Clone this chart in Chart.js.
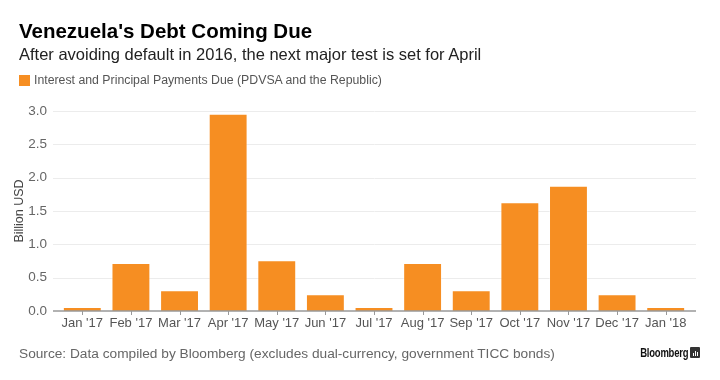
<!DOCTYPE html>
<html>
<head>
<meta charset="utf-8">
<script src="https://cdn.jsdelivr.net/npm/chart.js@4.4.1/dist/chart.umd.min.js"></script>
<style>
  html, body { margin: 0; padding: 0; background: #fff; }
  #wrap { position: relative; width: 720px; height: 380px; overflow: hidden; font-family: "Liberation Sans", Arial, sans-serif; }
  #c { position: absolute; left: 0; top: 0; }
  .t { position: absolute; white-space: nowrap; line-height: 1; }
  #title { left: 19px; top: 21px; font-size: 20.5px; font-weight: bold; color: #000; }
  #sub { left: 19px; top: 46px; font-size: 16.5px; color: #222; }
  #legbox { position: absolute; left: 19px; top: 75px; width: 11px; height: 11px; background: #F68E22; }
  #leg { left: 34px; top: 74px; font-size: 12.3px; color: #555; }
  #src { left: 19px; top: 347px; font-size: 13.7px; color: #666; }
  #logo { right: 32px; top: 347px; font-size: 12.5px; font-weight: bold; color: #111; letter-spacing: -0.3px; transform: scaleX(0.76); transform-origin: right center; }
  #icon { position: absolute; left: 690px; top: 347px; width: 10px; height: 11px; background: #333; border-radius: 1px; }
  #icon i { position: absolute; bottom: 2px; width: 1px; background: #fff; }
</style>
</head>
<body>
<div id="wrap">
  <canvas id="c" width="720" height="380"></canvas>
  <div class="t" id="title">Venezuela's Debt Coming Due</div>
  <div class="t" id="sub">After avoiding default in 2016, the next major test is set for April</div>
  <div id="legbox"></div>
  <div class="t" id="leg">Interest and Principal Payments Due (PDVSA and the Republic)</div>
  <div class="t" id="src">Source: Data compiled by Bloomberg (excludes dual-currency, government TICC bonds)</div>
  <div class="t" id="logo">Bloomberg</div>
  <div id="icon"><i style="left:3px;height:3px"></i><i style="left:5px;height:5px"></i><i style="left:7px;height:4px"></i></div>
</div>
<script>
const categories = ["Jan '17", "Feb '17", "Mar '17", "Apr '17", "May '17", "Jun '17", "Jul '17", "Aug '17", "Sep '17", "Oct '17", "Nov '17", "Dec '17", "Jan '18"];
const payments = [0.06, 0.72, 0.31, 2.96, 0.76, 0.25, 0.06, 0.72, 0.31, 1.63, 1.88, 0.25, 0.06];
const yTicks = [0, 0.5, 1.0, 1.5, 2.0, 2.5, 3.0];
const seriesLabel = "Interest and Principal Payments Due (PDVSA and the Republic)";
const yTitle = "Billion USD";

const gridPlugin = {
  id: 'bbgGrid',
  beforeDatasetsDraw(chart) {
    const ctx = chart.ctx, y = chart.scales.y, a = chart.chartArea;
    const l = a.left - 5, r = a.right + 6;
    ctx.save();
    ctx.lineWidth = 1;
    ctx.strokeStyle = '#ececec';
    yTicks.forEach(v => {
      if (v === 0) return;
      const py = Math.round(y.getPixelForValue(v)) + 0.5;
      ctx.beginPath(); ctx.moveTo(l, py); ctx.lineTo(r, py); ctx.stroke();
    });
    ctx.restore();
  },
  afterDatasetsDraw(chart) {
    const ctx = chart.ctx, y = chart.scales.y, x = chart.scales.x, a = chart.chartArea;
    const l = a.left - 5, r = a.right + 6;
    const py = y.getPixelForValue(0);
    ctx.save();
    ctx.strokeStyle = '#999';
    ctx.lineWidth = 1.5;
    ctx.beginPath(); ctx.moveTo(l, py); ctx.lineTo(r, py); ctx.stroke();
    ctx.lineWidth = 1;
    categories.forEach((c, i) => {
      const px = Math.round(x.getPixelForValue(i)) + 0.5;
      ctx.beginPath(); ctx.moveTo(px, py); ctx.lineTo(px, py + 4); ctx.stroke();
    });
    ctx.restore();
  }
};

new Chart(document.getElementById('c'), {
  type: 'bar',
  data: {
    labels: categories,
    datasets: [{
      label: seriesLabel,
      data: payments,
      backgroundColor: '#F68E22',
      borderColor: 'rgba(255,255,255,0.45)',
      borderWidth: 1,
      categoryPercentage: 1.0,
      barPercentage: 0.8
    }]
  },
  options: {
    responsive: false,
    animation: false,
    devicePixelRatio: 1,
    layout: { padding: { left: 12, right: 30, top: 111, bottom: 45 } },
    plugins: { legend: { display: false }, tooltip: { enabled: false }, title: { display: false } },
    scales: {
      x: {
        grid: { display: false, drawTicks: false },
        border: { display: false },
        ticks: { color: '#555', font: { family: 'Liberation Sans', size: 13 }, padding: 5, maxRotation: 0, autoSkip: false },
        afterFit(s) { s.height = 24; }
      },
      y: {
        min: 0, max: 3,
        grid: { display: false, drawTicks: false },
        border: { display: false },
        afterBuildTicks(s) { s.ticks = yTicks.map(v => ({ value: v })); },
        ticks: {
          color: '#666', font: { family: 'Liberation Sans', size: 13.5 }, padding: 11,
          callback: v => Number(v).toFixed(1)
        },
        title: { display: true, text: yTitle, color: '#444', font: { family: 'Liberation Sans', size: 12.5 }, padding: 0 },
        afterFit(s) { s.width = 46; }
      }
    }
  },
  plugins: [gridPlugin]
});
</script>
</body>
</html>
